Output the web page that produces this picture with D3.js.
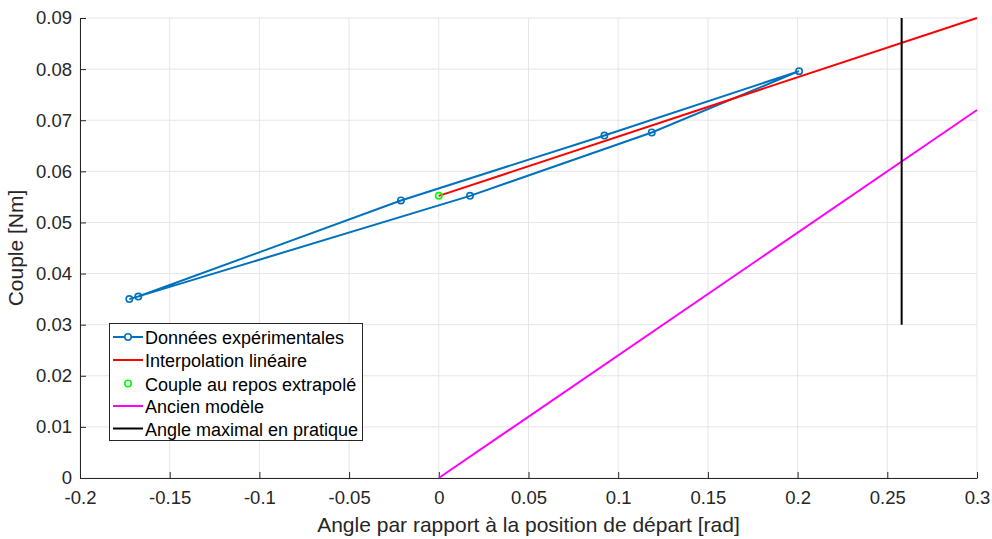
<!DOCTYPE html>
<html>
<head>
<meta charset="utf-8">
<script src="https://cdn.jsdelivr.net/npm/d3@7"></script>
<style>
  html, body { margin: 0; padding: 0; background: #fff; }
  svg { display: block; font-family: "Liberation Sans", Arial, sans-serif; }
</style>
</head>
<body>
<svg id="chart" width="992" height="539"></svg>
<script>
// Measured torque vs angle (loop of measurements)
const expAngle  = [-0.1725, 0.0174, 0.1187, 0.2008, 0.0923, -0.0211, -0.1675];
const expCouple = [0.0350, 0.0552, 0.0676, 0.0796, 0.0670, 0.0543, 0.0355];

// Linear fit and its value at rest
const fitAngle  = [0, 0.3];
const fitCouple = [0.0552, 0.0900];
const restAngle = [0];
const restCouple = [0.0552];

// Previous model
const oldAngle  = [0, 0.3];
const oldCouple = [0, 0.0720];

// Maximum practical angle
const maxAngle  = [0.258, 0.258];
const maxCouple = [0.030, 0.090];

const xTicks = [-0.2, -0.15, -0.1, -0.05, 0, 0.05, 0.1, 0.15, 0.2, 0.25, 0.3];
const yTicks = [0, 0.01, 0.02, 0.03, 0.04, 0.05, 0.06, 0.07, 0.08, 0.09];

const legendLabels = ["Données expérimentales", "Interpolation linéaire",
  "Couple au repos extrapolé", "Ancien modèle", "Angle maximal en pratique"];

const svg = d3.select("#chart");
const margin = {left: 80, right: 15, top: 18, bottom: 61};
const W = 992, H = 539;

const x = d3.scaleLinear().domain([-0.2, 0.3]).range([margin.left, W - margin.right]);
const y = d3.scaleLinear().domain([0, 0.09]).range([H - margin.bottom, margin.top]);

const axisColor = "#262626";
const fmt = d => String(+d.toFixed(2));

// Grid
const grid = svg.append("g");
grid.selectAll("line.gx").data(xTicks).join("line")
  .attr("x1", d => x(d)).attr("x2", d => x(d))
  .attr("y1", y(0)).attr("y2", y(0.09))
  .attr("stroke", "#e6e6e6").attr("stroke-width", 1);
grid.selectAll("line.gy").data(yTicks).join("line")
  .attr("x1", x(-0.2)).attr("x2", x(0.3))
  .attr("y1", d => y(d)).attr("y2", d => y(d))
  .attr("stroke", "#e6e6e6").attr("stroke-width", 1);

// Axes
const xAxis = svg.append("g").attr("transform", `translate(0,${y(0)})`)
  .call(d3.axisBottom(x).tickValues(xTicks).tickSizeInner(-6).tickSizeOuter(0).tickPadding(13).tickFormat(fmt));
const yAxis = svg.append("g").attr("transform", `translate(${x(-0.2)},0)`)
  .call(d3.axisLeft(y).tickValues(yTicks).tickSizeInner(-6).tickSizeOuter(0).tickPadding(8).tickFormat(fmt));
[xAxis, yAxis].forEach(a => {
  a.select(".domain").attr("stroke", axisColor).attr("stroke-width", 1);
  a.selectAll(".tick line").attr("stroke", axisColor);
  a.selectAll(".tick text").attr("fill", axisColor).attr("font-size", 18.5)
    .attr("font-family", "Liberation Sans, Arial, sans-serif");
});

// Axis labels
svg.append("text").attr("x", (x(-0.2) + x(0.3)) / 2).attr("y", 532)
  .attr("text-anchor", "middle").attr("font-size", 21).attr("fill", axisColor)
  .text("Angle par rapport à la position de départ [rad]");
svg.append("text").attr("transform", `translate(23,${(y(0) + y(0.09)) / 2}) rotate(-90)`)
  .attr("text-anchor", "middle").attr("font-size", 21).attr("fill", axisColor)
  .text("Couple [Nm]");

const line = d3.line().x(d => x(d[0])).y(d => y(d[1]));
const zip = (a, b) => a.map((v, i) => [v, b[i]]);

const plot = svg.append("g");
// Experimental data
plot.append("path").datum(zip(expAngle, expCouple)).attr("d", line)
  .attr("fill", "none").attr("stroke", "#0072BD").attr("stroke-width", 2);
plot.selectAll("circle.exp").data(zip(expAngle, expCouple)).join("circle")
  .attr("cx", d => x(d[0])).attr("cy", d => y(d[1])).attr("r", 3.2)
  .attr("fill", "none").attr("stroke", "#0072BD").attr("stroke-width", 1.6);
// Linear fit
plot.append("path").datum(zip(fitAngle, fitCouple)).attr("d", line)
  .attr("fill", "none").attr("stroke", "#FF0000").attr("stroke-width", 2);
// Rest torque
plot.selectAll("circle.rest").data(zip(restAngle, restCouple)).join("circle")
  .attr("cx", d => x(d[0])).attr("cy", d => y(d[1])).attr("r", 3.2)
  .attr("fill", "none").attr("stroke", "#00FF00").attr("stroke-width", 1.6);
// Previous model
plot.append("path").datum(zip(oldAngle, oldCouple)).attr("d", line)
  .attr("fill", "none").attr("stroke", "#FF00FF").attr("stroke-width", 2);
// Max angle
plot.append("path").datum(zip(maxAngle, maxCouple)).attr("d", line)
  .attr("fill", "none").attr("stroke", "#000000").attr("stroke-width", 2);

// Legend
const lg = svg.append("g");
lg.append("rect").attr("x", 109.5).attr("y", 323.5).attr("width", 253).attr("height", 117)
  .attr("fill", "#fff").attr("stroke", "#262626").attr("stroke-width", 1);
const styles = [
  {c: "#0072BD", line: true, marker: true},
  {c: "#FF0000", line: true},
  {c: "#00FF00", marker: true},
  {c: "#FF00FF", line: true},
  {c: "#000000", line: true}
];
const rowY = [337, 360, 383.5, 406, 428.5];
legendLabels.forEach((t, i) => {
  const s = styles[i], cy = rowY[i];
  if (s.line) lg.append("line").attr("x1", 113).attr("x2", 143).attr("y1", cy).attr("y2", cy)
    .attr("stroke", s.c).attr("stroke-width", 2);
  if (s.marker) lg.append("circle").attr("cx", 128).attr("cy", cy).attr("r", 3.2)
    .attr("fill", s.c === "#0072BD" ? "#fff" : "none").attr("stroke", s.c).attr("stroke-width", 1.6);
  lg.append("text").attr("x", 145).attr("y", cy + 7)
    .attr("font-size", 18).attr("fill", "#000").text(t);
});
</script>
</body>
</html>
